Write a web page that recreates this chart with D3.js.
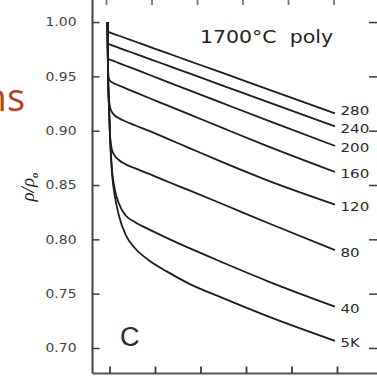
<!DOCTYPE html>
<html>
<head>
<meta charset="utf-8">
<script src="https://cdn.jsdelivr.net/npm/d3@7"></script>
<style>
  html, body { margin: 0; padding: 0; background: #fff; }
  svg { display: block; }
</style>
</head>
<body>
<svg id="chart" width="377" height="377"></svg>
<script>
// ---- data ----
const times = [0, 0.01, 0.03, 0.06, 0.1, 0.16, 0.25, 0.4, 0.6, 0.9, 1.3, 1.8, 2.5, 3.5, 5.0];
const seriesNames = ["280", "240", "200", "160", "120", "80", "40", "5K"];
const v280 = [1.000, 0.991, 0.9907, 0.9902, 0.9896, 0.9887, 0.9874, 0.9851, 0.9821, 0.9776, 0.9716, 0.9641, 0.9536, 0.9385, 0.916];
const v240 = [1.000, 0.981, 0.9797, 0.9792, 0.9786, 0.9777, 0.9763, 0.9740, 0.9710, 0.9664, 0.9603, 0.9527, 0.9420, 0.9267, 0.904];
const v200 = [1.000, 0.968, 0.9658, 0.9653, 0.9647, 0.9637, 0.9622, 0.9598, 0.9566, 0.9517, 0.9452, 0.9371, 0.9258, 0.9097, 0.886];
const v160 = [1.000, 0.958, 0.948, 0.9458, 0.9445, 0.9432, 0.9416, 0.9390, 0.9355, 0.9303, 0.9235, 0.9150, 0.9030, 0.8860, 0.862];
const v120 = [1.000, 0.955, 0.930, 0.921, 0.917, 0.914, 0.9115, 0.9085, 0.905, 0.900, 0.893, 0.884, 0.8715, 0.8545, 0.832];
const v80  = [1.000, 0.955, 0.925, 0.893, 0.882, 0.877, 0.873, 0.869, 0.8655, 0.8605, 0.8535, 0.845, 0.833, 0.8155, 0.790];
const v40  = [1.000, 0.955, 0.925, 0.890, 0.863, 0.846, 0.833, 0.822, 0.816, 0.8094, 0.8014, 0.7919, 0.7793, 0.7618, 0.738];
const v5K  = [1.000, 0.955, 0.925, 0.889, 0.860, 0.840, 0.822, 0.804, 0.792, 0.781, 0.7705, 0.759, 0.7465, 0.7295, 0.7065];
const seriesValues = [v280, v240, v200, v160, v120, v80, v40, v5K];
const yTickValues = [0.70, 0.75, 0.80, 0.85, 0.90, 0.95, 1.00];
const xTickValues = [0, 1, 2, 3, 4, 5];
const titleText = "1700°C  poly";
const panelLetter = "C";
const yLabelMain = "ρ/ρ";
const yLabelSub = "o";
const slideFragment = "ns";

(function () {
const svg = d3.select("#chart");
svg.append("rect").attr("width", 377).attr("height", 377).attr("fill", "#fff");

// ---- scales ----
const x = d3.scaleLinear().domain([-0.33, 5.945]).range([92.5, 378]);
const y = d3.scaleLinear().domain([0.6765, 1.0203]).range([373.5, 0]);

const axisColor = "#3a3a3a";
const g = svg.append("g");

// frame lines
g.append("line").attr("x1", x.range()[0]).attr("x2", x.range()[0])
  .attr("y1", y.range()[1]).attr("y2", y.range()[0])
  .attr("stroke", "#444").attr("stroke-width", 2);
g.append("line").attr("x1", x.range()[0]).attr("x2", x.range()[1])
  .attr("y1", y.range()[0]).attr("y2", y.range()[0])
  .attr("stroke", "#555").attr("stroke-width", 2.2);

// left axis (ticks inward, labels outside)
const leftAxis = g.append("g").attr("transform", `translate(${x.range()[0]},0)`)
  .call(d3.axisLeft(y).tickValues(yTickValues).tickSizeInner(-7).tickSizeOuter(0)
    .tickPadding(16).tickFormat(d3.format(".2f")));
leftAxis.select(".domain").remove();
leftAxis.selectAll(".tick line").attr("stroke", axisColor).attr("stroke-width", 1.5);
leftAxis.selectAll(".tick text")
  .attr("font-family", "DejaVu Sans").attr("font-size", 12).attr("fill", "#444")
  .attr("textLength", 31).attr("lengthAdjust", "spacingAndGlyphs");

// right axis ticks (axis line just outside the picture)
const rightAxis = g.append("g").attr("transform", `translate(${x.range()[1]},0)`)
  .call(d3.axisRight(y).tickValues(yTickValues).tickSizeInner(-9).tickSizeOuter(0).tickFormat(""));
rightAxis.select(".domain").remove();
rightAxis.selectAll(".tick line").attr("stroke", axisColor).attr("stroke-width", 1.5);

// bottom axis ticks
const bottomAxis = g.append("g").attr("transform", `translate(2,${y.range()[0]})`)
  .call(d3.axisBottom(x).tickValues(xTickValues).tickSizeInner(-7).tickSizeOuter(0).tickFormat(""));
bottomAxis.select(".domain").remove();
bottomAxis.selectAll(".tick line").attr("stroke", axisColor).attr("stroke-width", 1.8);

// top axis ticks
const topAxis = g.append("g").attr("transform", `translate(-1.5,${y.range()[1]})`)
  .call(d3.axisTop(x).tickValues(xTickValues).tickSizeInner(-5).tickSizeOuter(0).tickFormat(""));
topAxis.select(".domain").remove();
topAxis.selectAll(".tick line").attr("stroke", "#777").attr("stroke-width", 1.8);

// curves
const line = d3.line().x(d => x(d[0])).y(d => y(d[1])).curve(d3.curveMonotoneX);
const labels = [];
seriesNames.forEach((name, i) => {
  const pts = times.map((t, j) => [t, seriesValues[i][j]]);
  g.append("path").attr("d", line(pts)).attr("fill", "none")
    .attr("stroke", "#1e1e1e").attr("stroke-width", 1.8);
  const last = pts[pts.length - 1];
  labels.push({ name, x: x(last[0]) + 5.5, y: y(last[1]) + 2 });
});
// keep end labels from colliding: push upper ones up
labels.sort((a, b) => b.y - a.y);
for (let k = 1; k < labels.length; k++) {
  if (labels[k - 1].y - labels[k].y < 18) labels[k].y = labels[k - 1].y - 18;
}
labels.forEach(l => {
  g.append("text").attr("x", l.x).attr("y", l.y).attr("dy", "0.36em")
    .attr("font-family", "DejaVu Sans").attr("font-size", 12.5).attr("fill", "#2a2a2a")
    .attr("textLength", l.name.length * 9.6).attr("lengthAdjust", "spacingAndGlyphs")
    .text(l.name);
});

// title
g.append("text").attr("x", 200).attr("y", 43)
  .attr("font-family", "DejaVu Sans").attr("font-size", 17).attr("fill", "#222")
  .attr("textLength", 133).attr("lengthAdjust", "spacingAndGlyphs")
  .attr("xml:space", "preserve").style("white-space", "pre")
  .text(titleText);

// panel letter
g.append("text").attr("x", 120).attr("y", 346)
  .attr("font-family", "Liberation Sans").attr("font-size", 27).attr("fill", "#2a2a2a")
  .text(panelLetter);

// y label
const yl = g.append("text").attr("transform", "translate(34,187) rotate(-90)")
  .attr("text-anchor", "middle")
  .attr("font-family", "Liberation Serif").attr("font-style", "italic")
  .attr("font-size", 19).attr("fill", "#222");
yl.append("tspan").text(yLabelMain);
yl.append("tspan").attr("dy", 4).attr("font-size", 11).attr("font-weight", "bold").text(yLabelSub);

// slide fragment
svg.append("text").attr("x", 25).attr("y", 111).attr("text-anchor", "end")
  .attr("font-family", "Open Sans").attr("font-size", 38).attr("fill", "#BF3B1F")
  .text(slideFragment);
})();
</script>
</body>
</html>
